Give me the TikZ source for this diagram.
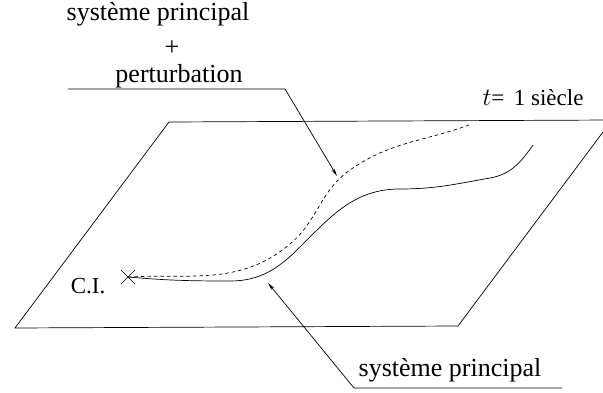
\documentclass[tikz,border=0pt]{standalone}
\usepackage{fontspec}
\setmainfont{Liberation Serif}
\usetikzlibrary{arrows.meta}
\tikzset{
  lbl/.style={font=\fontsize{26}{30}\selectfont, inner sep=0pt},
  smalllbl/.style={font=\fontsize{23}{27}\selectfont, inner sep=0pt},
  pointer/.style={-{Stealth[length=8pt,width=3.5pt]}},
}
\begin{document}
\begin{tikzpicture}[x=1pt,y=1pt,line width=0.7pt]
\useasboundingbox (0,0) rectangle (603,392);
\clip (0,0) rectangle (603,392);
% Plane
\draw (15,64) -- (169,270) -- (612,272) -- (458,66) -- cycle;
% Trajectories
\coordinate (ci) at (128,115);
\draw (ci) to[out=-5,in=180] (230,111) to[out=0,in=225] (300,145)
  to[out=45,in=180] (400,203) to[out=0,in=190] (490,214) to[out=10,in=235] (533,247);
\draw[dashed,dash pattern=on 3.5pt off 3pt] (ci) to[out=3,in=220] (290,148) to[out=40,in=215] (350,222)
  to[out=35,in=200] (469,267);
\draw (ci) ++(-7,-7) -- ++(14,14) (ci) ++(-7,7) -- ++(14,-14);
% Labels
\node[lbl] (sp1) at (158,378) {système principal};
\node[font=\fontsize{26}{30}\selectfont, inner sep=0pt, text height=10pt, text depth=0pt] (plus) at (172,342) {+};
\node[lbl] (pert) at (179,316) {perturbation};
\node[smalllbl] (tf) at (533,294) {$t$= \,1 siècle};
\node[smalllbl] (cilbl) at (88,106) {C.I.};
\node[lbl] (sp2) at (450,22) {système principal};
% Pointers
\coordinate (pa) at (68,303);
\coordinate (pb) at (285,303);
\coordinate (ptip) at (337,216);
\draw[pointer] (pa) -- (pb) -- (ptip);
\coordinate (qa) at (562,4);
\coordinate (qb) at (354,4);
\coordinate (qtip) at (268,109);
\draw[pointer] (qa) -- (qb) -- (qtip);
\end{tikzpicture}
\end{document}
